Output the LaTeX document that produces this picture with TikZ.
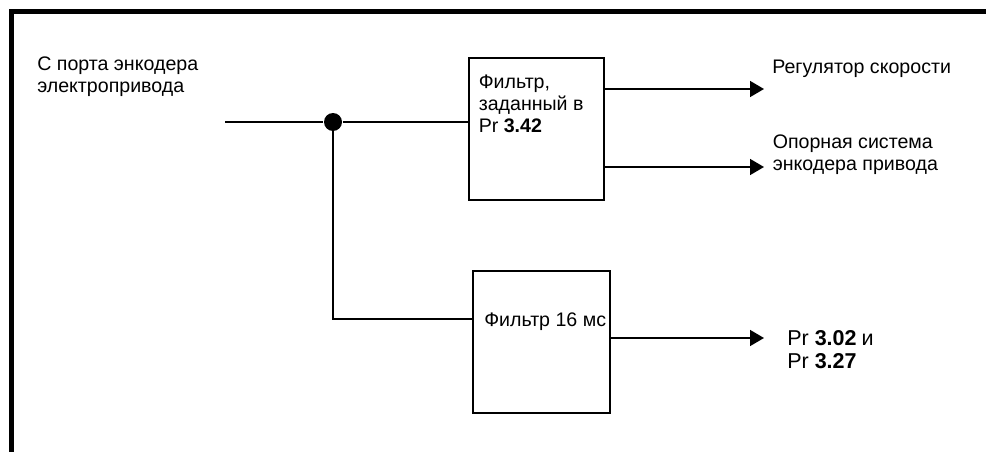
\documentclass[tikz,border=0pt]{standalone}
\usepackage{fontspec}
\setmainfont{Liberation Sans}
\usetikzlibrary{arrows.meta}
\usetikzlibrary{positioning}
\usetikzlibrary{calc}

\begin{document}
\begin{tikzpicture}[x=1pt, y=-1pt, line width=1.6pt,
    every node/.style={inner sep=0pt, font=\fontsize{19.6}{22}\selectfont},
    filterbox/.style={draw, rectangle, minimum width=#1, minimum height=142},
    txt/.style={anchor=base west, align=left},
    sig/.style={-{Triangle[length=14pt, width=16pt]}}]

        % Page frame
        \useasboundingbox (0,0) rectangle (986,452);
        \draw[line width=5pt] (11.5,452) -- (11.5,11.5) -- (986,11.5);

        % Filter blocks
        \node[filterbox=135] (filt1) at (536.5,129) {};
        \node[filterbox=137] (filt2) at (541.5,342) {};

        % Input and branch point
        \coordinate (in) at (225,122);
        \node[circle, fill=black, minimum size=18] (jn) at (333,122) {};
        \coordinate (bend) at (333,319);
        \draw (in) -- (jn) -- (jn -| filt1.west);
        \draw (jn.center) -- (bend) -- (bend -| filt2.west);

        % Output ends
        \coordinate (o1) at (764,89);
        \coordinate (o2) at (764,167);
        \coordinate (o3) at (764,338);
        \draw[sig] (filt1.east |- o1) -- (o1);
        \draw[sig] (filt1.east |- o2) -- (o2);
        \draw[sig] (filt2.east |- o3) -- (o3);

        % Labels (base = last line)
        \node[txt] (src) at (36.5,92.7) {С порта энкодера\\электропривода};
        \node[txt] (t1) at (478,132.7) {Фильтр,\\заданный в\\Pr \textbf{3.42}};
        \node[txt] (t2) at (483.5,326.7) {Фильтр 16 мс};
        \node[txt] (spd) at (771.5,74) {Регулятор скорости};
        \node[txt] (enc) at (772,170) {Опорная система\\энкодера привода};
        \node[txt, font=\fontsize{21.5}{23.3}\selectfont] (par) at (786.5,368.3)
          {Pr \textbf{3.02}\hspace{-1pt} и\\Pr \textbf{3.27}};

\end{tikzpicture}
\end{document}
